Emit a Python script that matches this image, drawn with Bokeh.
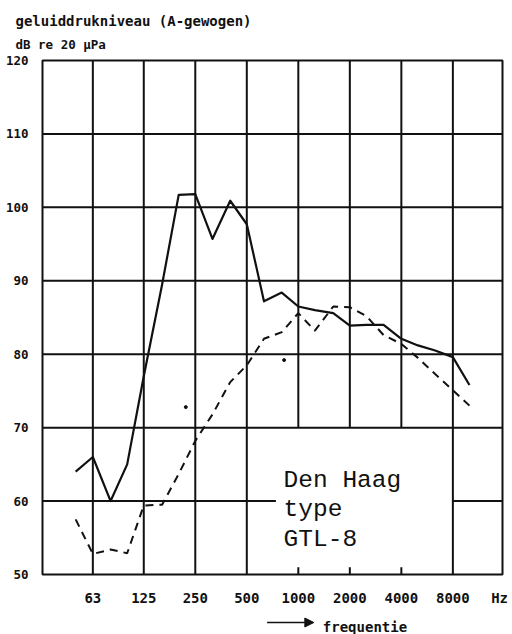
from bokeh.plotting import figure
from bokeh.layouts import column
from bokeh.models import FixedTicker, Label, Arrow, NormalHead, Title
from bokeh.core.properties import value
from bokeh.embed import file_html
from bokeh.resources import INLINE

# ---------------- data ----------------
freq = [50, 63, 80, 100, 125, 160, 200, 250, 315, 400, 500, 630, 800,
        1000, 1250, 1600, 2000, 2500, 3150, 4000, 5000, 6300, 8000, 10000]
level_solid = [64.0, 66.0, 60.0, 65.0, 77.0, 89.5, 101.7, 101.8, 95.7, 100.9,
               97.7, 87.2, 88.4, 86.5, 86.0, 85.6, 83.9, 84.0, 84.0, 82.1,
               81.2, 80.5, 79.6, 75.8]
level_dashed = [57.5, 52.8, 53.4, 52.9, 59.4, 59.5, 63.7, 68.2, 71.8, 76.2,
                78.5, 82.1, 83.0, 85.6, 83.2, 86.5, 86.4, 85.2, 82.6, 81.4,
                79.5, 77.3, 75.1, 73.0]
stray_freq = [220, 826]
stray_level = [72.8, 79.2]

freq_ticks = [63, 125, 250, 500, 1000, 2000, 4000, 8000]
freq_tick_labels = ["63", "125", "250", "500", "1000", "2000", "4000", "8000"]
unit_tick = 15000
unit_label = "Hz"
level_ticks = [50, 60, 70, 80, 90, 100, 110, 120]

y_title_1 = "geluiddrukniveau (A-gewogen)"
y_title_2 = "dB re 20 \u03bcPa"
x_title = "frequentie"
box_lines = ["Den Haag", "type", "GTL-8"]

# ---------------- main figure ----------------
X0, X1 = 32.0, 15600.0
Y0, Y1 = 50.0, 120.0
INK = "#111111"
PLOT_FONT = "DejaVu Sans Mono"

p = figure(x_axis_type="log", x_range=(X0, X1), y_range=(Y0, Y1),
           frame_width=460, frame_height=514,
           min_border_left=42, min_border_right=10,
           min_border_top=60, min_border_bottom=36,
           output_backend="svg", toolbar_location=None,
           background_fill_color="white", border_fill_color="white")
p.xgrid.visible = False
p.ygrid.visible = False
p.outline_line_color = INK
p.outline_line_width = 2

# axes
p.xaxis.ticker = FixedTicker(ticks=freq_ticks + [unit_tick])
overrides = {t: l for t, l in zip(freq_ticks, freq_tick_labels)}
overrides[unit_tick] = unit_label
p.xaxis.major_label_overrides = overrides
p.yaxis.ticker = FixedTicker(ticks=level_ticks)
for ax in (p.xaxis[0], p.yaxis[0]):
    ax.axis_line_color = None
    ax.major_tick_line_color = None
    ax.minor_tick_line_color = None
    ax.major_label_text_font = PLOT_FONT
    ax.major_label_text_font_style = "bold"
    ax.major_label_text_color = INK
p.xaxis.major_label_text_font_size = "14px"
p.xaxis.major_label_standoff = 9
p.yaxis.major_label_text_font_size = "12.5px"
p.yaxis.major_label_standoff = 8

# titles above the frame (nearest first)
p.add_layout(Title(text=y_title_2, align="left", offset=-27, standoff=17,
                   text_font=PLOT_FONT, text_font_size="12.5px",
                   text_font_style="bold", text_color=INK), "above")
p.add_layout(Title(text=y_title_1, align="left", offset=-27, standoff=-4,
                   text_font=PLOT_FONT, text_font_size="14px",
                   text_font_style="bold", text_color=INK), "above")

# grid lines (with the gaps of the original around the text box)
GRID_W = 2
box_top = 70
box_left_f = 740
full_h = [t for t in level_ticks if t not in (Y0, Y1, 60)]
p.segment(x0=[X0] * len(full_h), x1=[X1] * len(full_h), y0=full_h, y1=full_h,
          line_color=INK, line_width=GRID_W)
p.segment(x0=[X0, 8000], x1=[box_left_f, X1], y0=[60, 60], y1=[60, 60],
          line_color=INK, line_width=GRID_W)
full_v = [t for t in freq_ticks if t not in (1000, 2000, 4000)]
p.segment(x0=full_v, x1=full_v, y0=[Y0] * len(full_v), y1=[Y1] * len(full_v),
          line_color=INK, line_width=GRID_W)
part_v = [1000, 2000, 4000]
p.segment(x0=part_v, x1=part_v, y0=[box_top] * 3, y1=[Y1] * 3,
          line_color=INK, line_width=GRID_W)
p.segment(x0=part_v, x1=part_v, y0=[Y0] * 3, y1=[Y0 + 1.0] * 3,
          line_color=INK, line_width=GRID_W)

# curves
p.line(freq, level_solid, line_color=INK, line_width=2.2, line_join="round")
p.line(freq, level_dashed, line_color=INK, line_width=2.0, line_dash="8 6")
p.scatter(stray_freq, stray_level, size=3, color=INK)

# text box
box_y = [62.8, 58.8, 54.8]
for txt, yy in zip(box_lines, box_y):
    p.add_layout(Label(x=820, y=yy, text=txt, text_font="Liberation Mono",
                       text_font_size="24.5px", text_color=INK,
                       text_baseline="alphabetic", text_align="left"))

# ---------------- strip below: arrow + "frequentie" ----------------
STRIP_H = 24
q = figure(x_range=(0, 512), y_range=(STRIP_H, 0), width=512, height=STRIP_H,
           min_border=0, output_backend="svg", toolbar_location=None,
           background_fill_color="white", border_fill_color="white")
q.axis.visible = False
q.grid.visible = False
q.outline_line_color = None
q.add_layout(Arrow(x_start=250, y_start=12, x_end=302, y_end=12,
                   line_color=INK, line_width=1.5,
                   end=NormalHead(size=9, fill_color=INK, line_color=INK)))
q.text(x=[312], y=[16], text=[x_title], text_font=value(PLOT_FONT),
       text_font_size="14px", text_font_style="bold", text_color=INK,
       text_baseline="alphabetic", text_align="left")

open("out.html", "w").write(file_html(column(p, q), INLINE))
